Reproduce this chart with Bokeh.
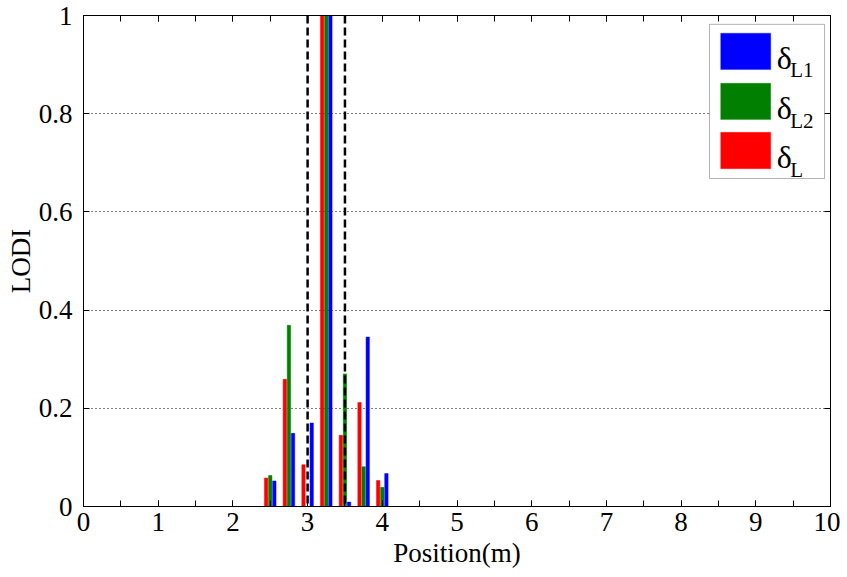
from bokeh.plotting import figure
from bokeh.models import (Range1d, LinearAxis, FixedTicker, ColumnDataSource, Span,
                          BoxAnnotation, Label, CustomJSTickFormatter)
from bokeh.transform import dodge
from bokeh.embed import file_html
from bokeh.resources import INLINE

# ---- data ----
positions = [2.5, 2.75, 3.0, 3.25, 3.5, 3.75, 4.0]
delta_L = [0.058, 0.259, 0.085, 1.0, 0.145, 0.212, 0.053]   # red
delta_L2 = [0.063, 0.369, 0.0, 1.0, 0.270, 0.081, 0.039]    # green
delta_L1 = [0.052, 0.149, 0.170, 1.0, 0.009, 0.345, 0.067]  # blue
bounds = [3.0, 3.5]
x_ticks = list(range(0, 11))
x_minor = [i * 0.5 for i in range(21)]
y_ticks = [0, 0.2, 0.4, 0.6, 0.8, 1.0]
series_labels = ["L1", "L2", "L"]

FONT = "Liberation Serif"
src = ColumnDataSource(dict(pos=positions, dl=delta_L, dl2=delta_L2, dl1=delta_L1))

p = figure(width=840, height=570, output_backend="svg", toolbar_location=None,
           x_range=Range1d(0, 10), y_range=Range1d(0, 1),
           min_border_left=83, min_border_right=10, min_border_top=15, min_border_bottom=64)
p.background_fill_color = "white"
p.border_fill_color = "white"
p.outline_line_color = "black"
p.outline_line_width = 1

p.xaxis[0].ticker = FixedTicker(ticks=x_ticks, minor_ticks=x_minor)
p.yaxis[0].ticker = FixedTicker(ticks=y_ticks, minor_ticks=[])

def style_axis(ax, labels=True):
    ax.axis_line_color = "black"
    ax.major_tick_in = 6
    ax.major_tick_out = 0
    ax.minor_tick_in = 6
    ax.minor_tick_out = 0
    ax.major_tick_line_color = "black"
    ax.minor_tick_line_color = "black"
    ax.major_label_text_font = FONT
    ax.major_label_text_font_size = "27px"
    ax.major_label_text_color = "black"
    ax.axis_label_text_font = FONT
    ax.axis_label_text_font_size = "27px"
    ax.axis_label_text_font_style = "normal"
    ax.axis_label_text_color = "black"
    if not labels:
        ax.formatter = CustomJSTickFormatter(code="return ''")
        ax.major_label_standoff = 0

style_axis(p.xaxis[0])
style_axis(p.yaxis[0])
p.xaxis[0].axis_label = "Position(m)"
p.xaxis[0].major_label_standoff = 6
p.xaxis[0].axis_label_standoff = 4
p.yaxis[0].axis_label = "LODI"
p.yaxis[0].major_label_standoff = 11
p.yaxis[0].axis_label_standoff = 0

top_ax = LinearAxis(ticker=FixedTicker(ticks=x_ticks, minor_ticks=x_minor))
style_axis(top_ax, labels=False)
right_ax = LinearAxis(ticker=FixedTicker(ticks=y_ticks, minor_ticks=[]))
style_axis(right_ax, labels=False)
p.add_layout(top_ax, "above")
p.add_layout(right_ax, "right")

# grid
p.xgrid.grid_line_color = None
p.ygrid.ticker = FixedTicker(ticks=[0.2, 0.4, 0.6, 0.8])
p.ygrid.grid_line_color = "black"
p.ygrid.grid_line_dash = "1 3"
p.ygrid.grid_line_width = 1

# bars
w = 0.045
p.vbar(x=dodge("pos", -0.055, range=p.x_range), top="dl", width=w, bottom=0, source=src,
       fill_color="#ff0000", line_color="#ff0000", line_width=0.5)
p.vbar(x=dodge("pos", 0.0, range=p.x_range), top="dl2", width=w, bottom=0, source=src,
       fill_color="#007f00", line_color="#007f00", line_width=0.5)
p.vbar(x=dodge("pos", 0.055, range=p.x_range), top="dl1", width=w, bottom=0, source=src,
       fill_color="#0000ff", line_color="#0000ff", line_width=0.5)

# dashed boundaries
for b in bounds:
    p.add_layout(Span(location=b, dimension="height", line_color="black",
                      line_dash="8 4", line_width=2.5))

# legend (manual, for subscripts)
p.add_layout(BoxAnnotation(left=8.38, right=9.92, top=0.982, bottom=0.668,
                           fill_color="white", fill_alpha=1, line_color="black", line_width=1))
colors = ["#0000ff", "#007f00", "#ff0000"]
tops = [0.964, 0.862, 0.762]
for c, t, lab in zip(colors, tops, series_labels):
    p.add_layout(BoxAnnotation(left=8.53, right=9.20, top=t, bottom=t - 0.074,
                               fill_color=c, fill_alpha=1, line_color=c))
    p.add_layout(Label(x=9.28, y=t - 0.050, text="δ", text_font=FONT, text_baseline="alphabetic",
                       text_font_size="32px", text_color="black"))
    p.add_layout(Label(x=9.46, y=t - 0.076, text=lab, text_font=FONT, text_baseline="alphabetic",
                       text_font_size="21px", text_color="black"))

open("out.html", "w").write(file_html(p, INLINE))
